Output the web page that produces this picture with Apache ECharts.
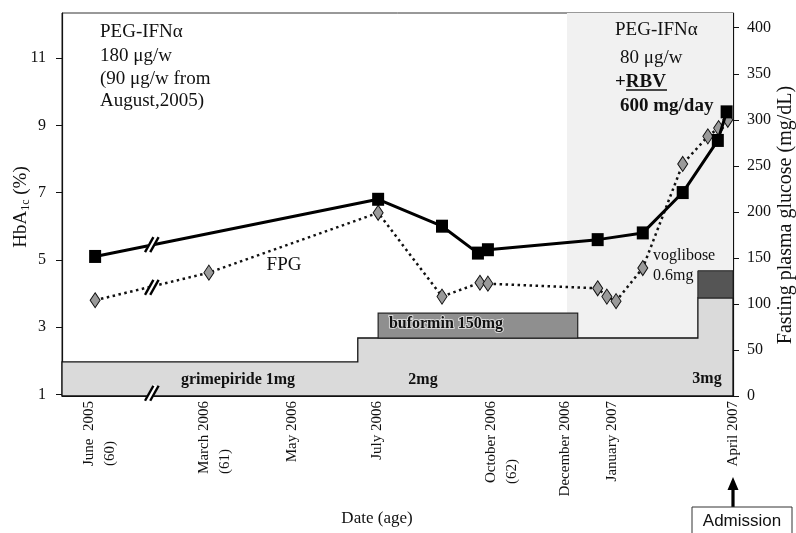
<!DOCTYPE html>
<html><head><meta charset="utf-8">
<script src="https://cdn.jsdelivr.net/npm/echarts@6/dist/echarts.min.js"></script>
<style>html,body{margin:0;padding:0;background:#fff}#c{width:796px;height:533px}</style>
</head><body><div id="c"></div>
<script>
// x values: month index counted from January 2005 = 1 (June 2005 = 6, April 2007 = 28)
const xTickMonths = [6.05, 15, 16.95, 19.08, 22.19, 23.79, 24.97, 28];
const xTickLabels = [['June  2005','(60)'], ['March 2006','(61)'], ['May 2006'], ['July 2006'],
                     ['October 2006','(62)'], ['December 2006'], ['January 2007'], ['April 2007']];
const hbTicks = [1, 3, 5, 7, 9, 11];
const fpgTicks = [0, 50, 100, 150, 200, 250, 300, 350, 400];

// HbA1c (%)
const hbMonths = [5.95, 19.11, 20.71, 21.61, 21.86, 24.61, 25.74, 26.74, 27.62, 27.84];
const hbValues = [5.1, 6.8, 6.0, 5.2, 5.3, 5.6, 5.8, 7.0, 8.55, 9.4];
// FPG (mg/dL)
const fpgMonths = [5.95, 14.87, 19.11, 20.71, 21.66, 21.86, 24.61, 24.84, 25.07, 25.74, 26.74, 27.37, 27.64, 27.87];
const fpgValues = [104, 134, 199, 108, 123, 122, 117, 108, 103, 139, 252, 282, 291, 300];

// omitted period on the time axis
const breakStart = 7.37, breakEnd = 13.44;
const xMin = 5.12, xMax = 28;

// drug bars (heights drawn on the right axis scale)
const glimeStepMonths = [18.6, 27.12];      // 1mg -> 2mg -> 3mg
const glimeLevels = [37, 63, 106.5];
const buformin = [19.11, 24.11, 63, 90];     // start, end, bottom, top
const voglibose = [27.12, 28, 106.5, 136];
const ribavirinPeriod = [23.84, 28];

const SERIF = '"Liberation Serif","Times New Roman",serif';
const ctx = document.createElement('canvas').getContext('2d');
ctx.font = '15px "Liberation Serif"';
const rich = { l: { fontFamily: SERIF, fontSize: 15, lineHeight: 21, color: '#111' } };
xTickLabels.forEach((L, i) => {
  if (L.length > 1) rich['w' + i] = { fontFamily: SERIF, fontSize: 15, lineHeight: 21, color: '#111',
    width: Math.ceil(ctx.measureText(L[0]).width), align: 'left' };
});

const chart = echarts.init(document.getElementById('c'));

function rectItem(x0, x1, y0, y1, api, style) {
  const a = api.coord([x0, y1]), b = api.coord([x1, y0]);
  return { type: 'rect', shape: { x: a[0], y: a[1], width: b[0] - a[0], height: b[1] - a[1] }, style };
}
function breakMark(params, api) {
  const c = api.coord([api.value(0), api.value(1)]);
  const dx = 4.2, dy = -7.5, off = 2.6;
  const seg = (o, w, col) => ({ type: 'line', shape: { x1: c[0] + o - dx, y1: c[1] - dy, x2: c[0] + o + dx, y2: c[1] + dy },
    style: { stroke: col, lineWidth: w } });
  return { type: 'group', children: [seg(0, 6, '#fff'), seg(-off, 2.4, '#000'), seg(off, 2.4, '#000')] };
}

const option = {
  animation: false,
  grid: { left: 62, right: 63, top: 13, bottom: 137, show: true, borderColor: '#333', borderWidth: 1 },
  xAxis: {
    type: 'value', min: xMin, max: xMax,
    breaks: [{ start: breakStart, end: breakEnd, gap: 0 }],
    breakArea: { show: false },
    axisLine: { show: true, onZero: false, lineStyle: { color: '#111', width: 1.2 } },
    axisTick: { show: false },
    splitLine: { show: false },
    axisLabel: {
      customValues: xTickMonths, rotate: 90, margin: 5, rich,
      formatter: v => {
        const i = xTickMonths.findIndex(m => Math.abs(m - v) < 1e-6);
        if (i < 0) return '';
        const L = xTickLabels[i];
        return L.length > 1 ? `{l|${L[0]}}\n{w${i}|${L[1]}}` : `{l|${L[0]}}`;
      }
    }
  },
  yAxis: [
    { type: 'value', min: 0.95, max: 12.34, position: 'left',
      axisLine: { show: true, lineStyle: { color: '#111', width: 1.2 } },
      axisTick: { show: true, customValues: hbTicks, length: 6, lineStyle: { color: '#111' } },
      axisLabel: { customValues: hbTicks, margin: 16, fontFamily: SERIF, fontSize: 16, color: '#111' },
      splitLine: { show: false } },
    { type: 'value', min: 0, max: 416, position: 'right',
      axisLine: { show: true, lineStyle: { color: '#111', width: 1.2 } },
      axisTick: { show: true, customValues: fpgTicks, length: 6, lineStyle: { color: '#111' } },
      axisLabel: { customValues: fpgTicks, margin: 14, fontFamily: SERIF, fontSize: 16, color: '#111' },
      splitLine: { show: false } }
  ],
  series: [
    { type: 'custom', name: 'PEG-IFN+RBV period', xAxisIndex: 0, yAxisIndex: 1, z: 1, silent: true,
      data: [[ribavirinPeriod[0], 0]],
      renderItem: (p, api) => rectItem(ribavirinPeriod[0], ribavirinPeriod[1], 0, 416, api, { fill: '#f1f1f1' }) },
    { type: 'custom', name: 'glimepiride', xAxisIndex: 0, yAxisIndex: 1, z: 2, silent: true,
      data: [[xMin, 0]],
      renderItem: (p, api) => {
        const xs = [xMin].concat(glimeStepMonths, [xMax]);
        const pts = [api.coord([xMin, 0])];
        for (let i = 0; i < glimeLevels.length; i++) {
          pts.push(api.coord([xs[i], glimeLevels[i]]));
          pts.push(api.coord([xs[i + 1], glimeLevels[i]]));
        }
        pts.push(api.coord([xMax, 0]));
        return { type: 'polygon', shape: { points: pts }, style: { fill: '#dadada', stroke: '#111', lineWidth: 1.3 } };
      } },
    { type: 'custom', name: 'buformin', xAxisIndex: 0, yAxisIndex: 1, z: 3, silent: true,
      data: [[buformin[0], buformin[2]]],
      renderItem: (p, api) => rectItem(buformin[0], buformin[1], buformin[2], buformin[3], api,
        { fill: '#8f8f8f', stroke: '#222', lineWidth: 1.2 }) },
    { type: 'custom', name: 'voglibose', xAxisIndex: 0, yAxisIndex: 1, z: 3, silent: true,
      data: [[voglibose[0], voglibose[2]]],
      renderItem: (p, api) => rectItem(voglibose[0], voglibose[1], voglibose[2], voglibose[3], api,
        { fill: '#555', stroke: '#222', lineWidth: 1 }) },
    { type: 'line', name: 'HbA1c', xAxisIndex: 0, yAxisIndex: 0, z: 6,
      data: hbMonths.map((m, i) => [m, hbValues[i]]),
      symbol: 'rect', symbolSize: [12, 13], showAllSymbol: true,
      itemStyle: { color: '#000' }, lineStyle: { color: '#000', width: 3 } },
    { type: 'line', name: 'FPG', xAxisIndex: 0, yAxisIndex: 1, z: 5,
      data: fpgMonths.map((m, i) => [m, fpgValues[i]]),
      symbol: 'diamond', symbolSize: [10, 15], showAllSymbol: true,
      itemStyle: { color: '#9a9a9a', borderColor: '#111', borderWidth: 1 },
      lineStyle: { color: '#111', width: 2.5, type: [2.5, 3.5] } },
    { type: 'custom', name: 'break-hb', xAxisIndex: 0, yAxisIndex: 0, z: 8, silent: true,
      data: [[breakStart, 5.45]], renderItem: breakMark },
    { type: 'custom', name: 'break-fpg', xAxisIndex: 0, yAxisIndex: 1, z: 8, silent: true,
      data: [[breakStart, 118], [breakStart, 3]], renderItem: breakMark }
  ]
};
chart.setOption(option);

function txt(x, y, text, size, extra) {
  return Object.assign({ type: 'text', x, y, z: 20, silent: true,
    style: Object.assign({ text, fill: '#111', font: `${(extra && extra.weight) || 'normal'} ${size}px ${SERIF}`,
      textAlign: 'left', textVerticalAlign: 'middle', align: 'left', verticalAlign: 'middle' }, (extra && extra.style) || {}) },
    (extra && extra.el) || {});
}
const center = { textAlign: 'center', align: 'center' };
const ax = chart.convertToPixel({ xAxisIndex: 0 }, xMax);

chart.setOption({ graphic: [
  txt(100, 32, 'PEG-IFNα', 19), txt(100, 56, '180 μg/w', 19), txt(100, 79, '(90 μg/w from', 19), txt(100, 101, 'August,2005)', 19),
  txt(615, 30, 'PEG-IFNα', 19), txt(620, 58, '80 μg/w', 19),
  txt(615, 82, '+RBV', 19, { weight: 'bold' }),
  { type: 'line', z: 20, shape: { x1: 626, y1: 90, x2: 667, y2: 90 }, style: { stroke: '#111', lineWidth: 1.3 } },
  txt(620, 106, '600 mg/day', 19, { weight: 'bold' }),
  txt(284, 265, 'FPG', 19, { style: center }),
  txt(238, 380, 'grimepiride 1mg', 16, { weight: 'bold', style: center }),
  txt(423, 380, '2mg', 16, { weight: 'bold', style: center }),
  txt(707, 379, '3mg', 16, { weight: 'bold', style: center }),
  txt(446, 324, 'buformin 150mg', 16, { weight: 'bold', style: Object.assign({ stroke: '#d8d8d8', lineWidth: 2 }, center) }),
  txt(653, 256, 'voglibose', 16), txt(653, 276, '0.6mg', 16),
  txt(377, 519, 'Date (age)', 17, { style: center }),
  { type: 'text', x: 21, y: 207, rotation: Math.PI / 2, z: 20, silent: true,
    style: { text: '{a|HbA}{s|1c}{a| (%)}', textAlign: 'center', align: 'center', textVerticalAlign: 'middle', verticalAlign: 'middle',
      rich: { a: { fontFamily: SERIF, fontSize: 19, lineHeight: 22, fill: '#111', color: '#111' },
              s: { fontFamily: SERIF, fontSize: 12, lineHeight: 12, verticalAlign: 'bottom', fill: '#111', color: '#111' } } } },
  { type: 'text', x: 786, y: 215, rotation: Math.PI / 2, z: 20, silent: true,
    style: { text: 'Fasting plasma glucose (mg/dL)', fill: '#111', font: `20px ${SERIF}`,
      textAlign: 'center', align: 'center', textVerticalAlign: 'middle', verticalAlign: 'middle' } },
  { type: 'polygon', z: 20, shape: { points: [[ax, 477], [ax - 5.5, 490], [ax - 1.6, 490], [ax - 1.6, 507], [ax + 1.6, 507], [ax + 1.6, 490], [ax + 5.5, 490]] },
    style: { fill: '#000' } },
  { type: 'rect', z: 20, shape: { x: ax - 41, y: 507, width: 100, height: 40 }, style: { fill: '#fff', stroke: '#333', lineWidth: 1 } },
  { type: 'text', x: ax + 9, y: 521, z: 21, style: { text: 'Admission', fill: '#111', font: '17px "Liberation Sans", Arial, sans-serif',
      textAlign: 'center', align: 'center', textVerticalAlign: 'middle', verticalAlign: 'middle' } }
] });
</script></body></html>
